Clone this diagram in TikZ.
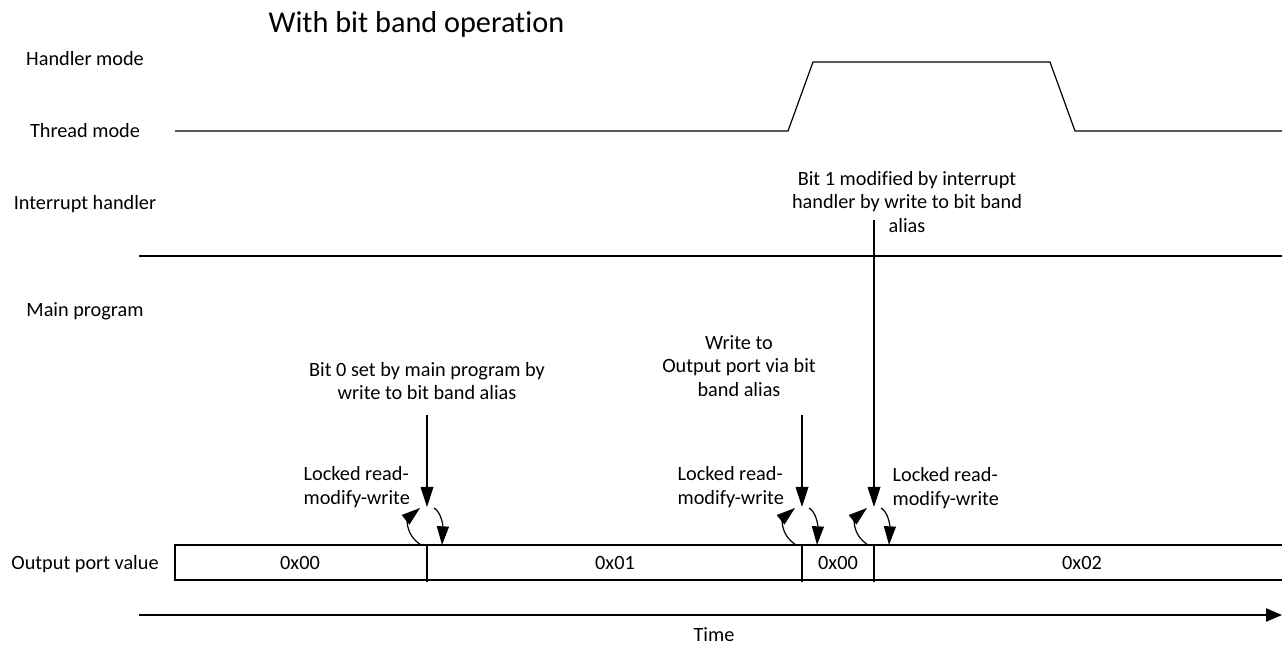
\documentclass[tikz,border=0pt]{standalone}
\usepackage{fontspec}
\setmainfont{Carlito}[Ligatures=NoCommon]
\usetikzlibrary{arrows.meta,positioning}
\begin{document}
\begin{tikzpicture}[x=0.75pt, y=0.75pt, line width=0.9pt,
  lbl/.style={font=\fontsize{15.2}{17.6}\selectfont, inner sep=0pt, align=center},
  lock/.style={lbl, align=left, anchor=west},
  sig/.style={-{Triangle[length=15pt,width=9.5pt]}},
  rmw/.style={-{Triangle[length=14pt,width=9pt]}}]
\useasboundingbox (0,0) rectangle (1282,645);
\node[lbl, font=\fontsize{22.7}{27}\selectfont, anchor=west] (title) at (268,621) {With bit band operation};
% row names
\node[lbl, anchor=mid] (handler) at (85,583) {Handler mode};
\node[lbl, anchor=mid] (thread)  at (85,511) {Thread mode};
\node[lbl, anchor=mid] (irq)     at (85,439) {Interrupt handler};
\node[lbl, anchor=mid] (main)    at (85,332) {Main program};
\node[lbl, anchor=mid] (port)    at (85,79)  {Output port value};
% processor mode and handler line
\draw (175,514) -- (788,514) -- (813,583) -- (1050,583) -- (1075,514) -- (1282,514);
\draw (139,389) -- (1282,389);
% output port value
\draw (1282,100) -- (175,100) -- (175,65) -- (1282,65);
\foreach \x in {427,802,874} \draw (\x,100) -- (\x,63);
\node[lbl, anchor=mid] (v0) at (300,79)  {0x00};
\node[lbl, anchor=mid] (v1) at (615,79)  {0x01};
\node[lbl, anchor=mid] (v2) at (838,79)  {0x00};
\node[lbl, anchor=mid] (v3) at (1082,79) {0x02};
% bit band writes
\node[lbl] (bit0) at (427,264) {Bit 0 set by main program by\\write to bit band alias};
\node[lbl] (wr)   at (739,279) {Write to\\Output port via bit\\band alias};
\node[lbl] (bit1) at (907,443) {Bit 1 modified by interrupt\\handler by write to bit band\\alias};
\coordinate (s0) at (427,230); \coordinate (t0) at (427,138);
\coordinate (s1) at (802,230); \coordinate (t1) at (802,138);
\coordinate (s2) at (874,425); \coordinate (t2) at (874,138);
\draw[sig] (s0) -- (t0);
\draw[sig] (s1) -- (t1);
\draw[sig] (s2) -- (t2);
% locked read-modify-write
\node[lock] (lk0) at (303,158) {Locked read-\\modify-write};
\node[lock] (lk1) at (677,158) {Locked read-\\modify-write};
\node[lock] (lk2) at (892,157) {Locked read-\\modify-write};
\foreach \c in {427,802,874} {
  \draw[rmw] (\c-6,100) .. controls (\c-24,112) and (\c-18,128) .. (\c-7,137);
  \draw[rmw] (\c+7,137) .. controls (\c+14,133) and (\c+16,120) .. (\c+15,100);
}
% time axis
\coordinate (ts) at (139,30); \coordinate (te) at (1282,30);
\draw[-{Triangle[length=12pt,width=10pt]}] (ts) -- (te);
\node[lbl, anchor=mid] (time) at (714,7) {Time};
\end{tikzpicture}
\end{document}
